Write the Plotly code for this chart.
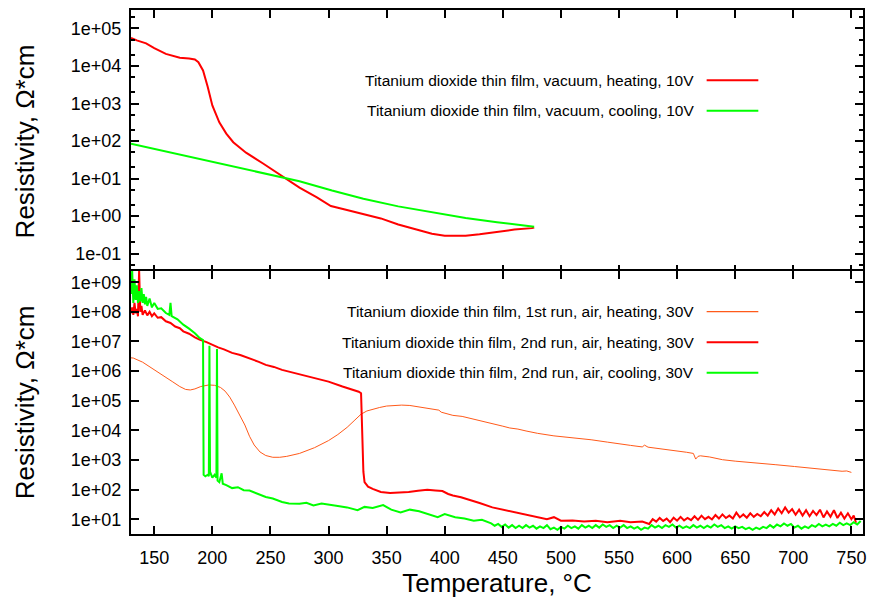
import plotly.graph_objects as go
from plotly.subplots import make_subplots

# ---------------- data ----------------
x_ticks = [150, 200, 250, 300, 350, 400, 450, 500, 550, 600, 650, 700, 750]

top_ticks = [1e-1, 1e0, 1e1, 1e2, 1e3, 1e4, 1e5]
top_tick_text = ["1e-01", "1e+00", "1e+01", "1e+02", "1e+03", "1e+04", "1e+05"]
bot_ticks = [1e1, 1e2, 1e3, 1e4, 1e5, 1e6, 1e7, 1e8, 1e9]
bot_tick_text = ["1e+01", "1e+02", "1e+03", "1e+04", "1e+05", "1e+06", "1e+07", "1e+08", "1e+09"]

names_top = ["Titanium dioxide thin film, vacuum, heating, 10V",
             "Titanium dioxide thin film, vacuum, cooling, 10V"]
names_bot = ["Titanium dioxide thin film, 1st run, air, heating, 30V",
             "Titanium dioxide thin film, 2nd run, air, heating, 30V",
             "Titanium dioxide thin film, 2nd run, air, cooling, 30V"]

# vacuum, heating, 10V
vh_T = [130, 135, 143, 150, 160, 172, 180, 185, 188, 192, 196, 200, 206, 212, 218, 229,
        243, 255, 266, 275, 290, 302, 315, 332, 345, 360, 375, 389, 400, 410, 418, 430,
        446, 460, 475, 477]
vh_R = [5.6e4, 4.8e4, 4.0e4, 3.0e4, 2.1e4, 1.66e4, 1.58e4, 1.48e4, 1.26e4, 7.6e3, 2.8e3,
        890, 316, 158, 93, 49, 26, 14.5, 8.5, 5.75, 3.16, 1.86, 1.48, 1.10, 0.87, 0.60,
        0.44, 0.34, 0.30, 0.295, 0.30, 0.33, 0.39, 0.44, 0.48, 0.50]

# vacuum, cooling, 10V
vc_T = [130, 150, 175, 200, 225, 250, 275, 303, 330, 360, 390, 418, 445, 475, 477]
vc_R = [85, 62, 42, 28, 19, 12.6, 8.5, 4.8, 2.9, 1.82, 1.23, 0.89, 0.69, 0.54, 0.525]

# 1st run, air, heating, 30V
a1_T = [130, 132, 140, 146, 153, 160, 166, 172, 177, 181, 185, 190, 197, 202, 207, 211,
        215, 219, 223, 228, 232, 236, 241, 246, 252, 258, 264, 270, 275, 288, 300, 308,
        316, 322, 328, 333, 338, 344, 350, 356, 363, 370, 376, 384, 391, 395, 397, 401,
        407, 415, 425, 432, 440, 450, 456, 463, 470, 480, 494, 502, 510, 518, 526, 540,
        551, 560, 570, 572, 575, 588, 600, 608, 614, 616, 618, 620, 628, 639, 650, 660,
        670, 685, 701, 715, 725, 733, 742, 746, 750]
a1_R = [2.8e6, 2.75e6, 2.0e6, 1.41e6, 9.5e5, 6.5e5, 4.3e5, 3.0e5, 2.4e5, 2.3e5, 2.5e5,
        3.0e5, 3.4e5, 3.3e5, 2.8e5, 2.1e5, 1.32e5, 7.1e4, 3.7e4, 1.51e4, 6.3e3, 3.2e3,
        1.86e3, 1.41e3, 1.23e3, 1.23e3, 1.32e3, 1.48e3, 1.66e3, 2.6e3, 4.5e3, 7.2e3,
        1.26e4, 2.1e4, 3.5e4, 4.5e4, 5.2e4, 5.9e4, 6.6e4, 6.9e4, 7.1e4, 6.9e4, 6.3e4,
        5.8e4, 5.1e4, 4.8e4, 4.1e4, 3.8e4, 3.2e4, 2.95e4, 2.4e4, 2.1e4, 1.74e4, 1.38e4,
        1.2e4, 1.1e4, 9.5e3, 7.9e3, 6.5e3, 6.0e3, 5.75e3, 5.1e3, 4.8e3, 4.0e3, 3.4e3,
        3.1e3, 2.75e3, 3.16e3, 2.7e3, 2.35e3, 2.05e3, 1.82e3, 1.66e3, 1.07e3, 1.32e3,
        1.38e3, 1.26e3, 1.02e3, 910, 850, 780, 690, 600, 525, 470, 440, 415, 425, 380]

# 2nd run, air, heating, 30V
a2h_T = [130, 131, 132, 133, 134, 135, 136, 137, 138, 139, 140, 142, 144, 146, 148, 150,
         153, 156, 160, 164, 168, 172, 175, 180, 185, 189, 195, 200, 205, 210, 217, 224,
         232, 240, 246, 253, 260, 267, 275, 288, 300, 312, 320, 326, 328, 329, 330, 331,
         334, 338, 345, 353, 361, 369, 377, 385, 392, 398, 403, 407, 414, 422, 430, 441,
         452, 463, 472, 480, 488, 494, 500, 510, 520, 530, 540, 551, 560, 570,
         576, 579, 582, 585, 588, 591, 594, 597, 600, 603, 606, 609, 612, 615, 618, 621,
         624, 627, 630, 633, 636, 639, 642, 645, 648, 651, 654, 657, 660, 663, 666, 669,
         672, 675, 678, 681, 684, 687, 690, 693, 696, 699, 702, 705, 708, 711, 714, 717,
         720, 723, 726, 729, 732, 735, 738, 741, 744, 747, 750, 752, 754]
a2h_R = [8.9e7, 1.41e8, 7.9e7, 2.0e8, 8.9e7, 1.26e8, 7.1e7, 2.5e9, 1.0e8, 1.58e8, 7.9e7,
         1.12e8, 7.6e7, 1.0e8, 7.1e7, 8.9e7, 6.3e7, 6.6e7, 4.8e7, 4.2e7, 3.2e7, 2.8e7,
         2.2e7, 1.82e7, 1.38e7, 1.15e7, 9.5e6, 7.6e6, 6.3e6, 5.4e6, 4.1e6, 3.5e6, 2.75e6,
         2.05e6, 1.62e6, 1.38e6, 1.1e6, 9.3e5, 7.9e5, 5.75e5, 4.4e5, 3.0e5, 2.4e5, 2.0e5,
         1.78e5, 3.2e3, 400, 178, 126, 105, 83, 76, 78, 83, 91, 98, 93, 89, 71, 63, 55, 45,
         35, 25, 20, 16, 13.2, 11.2, 10, 11.7, 8.9, 9.1, 8.3, 8.9, 7.9, 8.9, 7.9, 8.3,
         6.9, 10, 8.3, 11, 8.7, 10.5, 7.9, 11.2, 8.9, 12, 9.1, 11, 9.3, 12.6, 9.5, 13.2,
         10, 12, 9.8, 13.8, 10.5, 14.5, 11, 13.2, 10.5, 16.6, 11.5, 14.5, 11.2, 15.8, 12, 15.1,
         12.6, 17.4, 13.2, 20, 14.5, 22.9, 15.8, 25, 16.6, 21.9, 14.1, 20.9, 13.2, 20, 12.6, 19.1,
         13.8, 20.9, 11.5, 18.2, 12, 20, 11, 16.6, 10.5, 15.8, 10, 13.2, 7.6]

# 2nd run, air, cooling, 30V
a2c_T = [130, 131, 132, 133, 134, 135, 136, 137, 138, 139, 140, 141, 142, 143, 144, 146,
         148, 150, 153, 156, 160, 163, 164, 165, 170, 175, 180, 185, 189, 192, 192.5, 194,
         196, 197, 197.5, 198, 200, 202, 203.5, 204, 204.5, 206, 208, 209, 212, 217, 222,
         227, 232, 238, 246, 252, 260, 266, 275, 281, 287, 294, 300, 308, 316, 325, 331,
         338, 347, 354, 362, 370, 378, 386, 394, 400, 409, 417, 425, 432,
         440, 443, 446, 449, 452, 455, 458, 461, 464, 467, 470, 473, 476, 479, 482, 485,
         488, 491, 494, 497, 500, 503, 506, 509, 512, 515, 518, 521, 524, 527, 530, 533,
         536, 539, 542, 545, 548, 551, 554, 557, 560, 563, 566, 569, 572, 575, 578, 581,
         584, 587, 590, 593, 596, 599, 602, 605, 608, 611, 614, 617, 620, 623, 626, 629,
         632, 635, 638, 641, 644, 647, 650, 653, 656, 659, 662, 665, 668, 671, 674, 677,
         680, 683, 686, 689, 692, 695, 698, 701, 704, 707, 710, 713, 716, 719, 722, 725,
         728, 731, 734, 737, 740, 743, 746, 749, 752, 755, 758]
a2c_R = [4.0e8, 2.5e9, 2.0e8, 1.26e9, 2.5e8, 7.9e8, 2.0e8, 5.0e8, 2.2e8, 6.3e8, 2.0e8,
         4.0e8, 1.78e8, 3.2e8, 1.58e8, 2.8e8, 1.41e8, 2.0e8, 1.26e8, 1.32e8, 9.1e7, 7.9e7,
         2.0e8, 7.1e7, 5.6e7, 3.7e7, 2.7e7, 1.9e7, 1.32e7, 1.12e7, 316, 282, 316, 282,
         7.1e6, 400, 251, 316, 251, 5.6e6, 200, 178, 355, 158, 141, 112, 120, 95, 93, 76,
         56, 50, 38, 34, 33, 36, 29, 34, 32, 28, 25, 20, 26, 24, 30, 21, 17, 21, 18.6,
         14.5, 11.7, 14.8, 11.7, 10.5, 8.9, 9.5,
         7.2, 6.0, 6.9, 5.5, 6.6, 5.2, 6.3, 5.0, 6.0, 5.0, 6.3, 5.2, 6.0, 4.8, 5.75, 5.0,
         6.3, 4.6, 5.2, 4.4, 5.5, 4.8, 6.0, 5.0, 5.75, 4.8, 6.3, 5.2, 6.0, 5.0, 6.3, 5.2,
         6.6, 5.5, 6.3, 5.0, 6.0, 5.2, 6.3, 5.0, 5.75, 4.8, 5.5, 4.4, 5.2, 4.8, 6.3, 5.2,
         6.0, 5.0, 6.3, 5.5, 6.6, 5.2, 6.0, 5.0, 5.75, 5.0, 6.3, 5.2, 6.0, 5.0, 6.0, 5.2,
         6.6, 5.5, 6.3, 5.0, 5.75, 4.8, 5.75, 5.0, 5.5, 4.6, 5.2, 4.4, 5.2, 4.6, 5.5, 5.0,
         6.3, 5.2, 6.6, 5.75, 7.2, 6.0, 6.9, 5.2, 6.0, 4.8, 5.75, 5.0, 6.3, 5.5, 6.9, 5.75,
         6.6, 5.75, 6.9, 6.0, 7.6, 6.3, 7.2, 6.3, 7.9, 6.6, 8.7]

RED = "#ff0000"
GREEN = "#00ff00"
ORANGE = "#ff5a1a"
FONT = "Liberation Sans, Arial, Helvetica, sans-serif"

# ---------------- figure ----------------
fig = make_subplots(rows=2, cols=1, shared_xaxes=True, vertical_spacing=0)

fig.add_trace(go.Scatter(x=vh_T, y=vh_R, mode="lines", name=names_top[0],
                         line=dict(color=RED, width=2)), row=1, col=1)
fig.add_trace(go.Scatter(x=vc_T, y=vc_R, mode="lines", name=names_top[1],
                         line=dict(color=GREEN, width=2)), row=1, col=1)
fig.add_trace(go.Scatter(x=a1_T, y=a1_R, mode="lines", name=names_bot[0],
                         line=dict(color=ORANGE, width=1)), row=2, col=1)
fig.add_trace(go.Scatter(x=a2h_T, y=a2h_R, mode="lines", name=names_bot[1],
                         line=dict(color=RED, width=2)), row=2, col=1)
fig.add_trace(go.Scatter(x=a2c_T, y=a2c_R, mode="lines", name=names_bot[2],
                         line=dict(color=GREEN, width=2)), row=2, col=1)

axis_common = dict(showline=True, linewidth=2, linecolor="black", mirror="allticks",
                   ticks="inside", ticklen=8, tickwidth=2, tickcolor="black",
                   showgrid=False, zeroline=False,
                   tickfont=dict(family=FONT, size=18, color="black"))

fig.update_xaxes(range=[130, 760], tickvals=x_ticks, **axis_common)
fig.update_xaxes(row=2, col=1, ticklabelstandoff=6,
                 title=dict(text="Temperature, °C", standoff=2,
                            font=dict(family=FONT, size=26, color="black")))

ytitle = dict(text="Resistivity, Ω*cm", standoff=29,
              font=dict(family=FONT, size=26, color="black"))
fig.update_yaxes(row=1, col=1, type="log", range=[-1.515, 5.49], domain=[0.498, 1.0],
                 tickvals=top_ticks, ticktext=top_tick_text, title=ytitle,
                 ticklabelstandoff=4,
                 minor=dict(ticks="inside", ticklen=4, tickwidth=1.5, tickcolor="black",
                            dtick="D2", showgrid=False),
                 **axis_common)
fig.update_yaxes(row=2, col=1, type="log", range=[0.5, 9.38], domain=[0.0, 0.502],
                 tickvals=bot_ticks, ticktext=bot_tick_text, title=ytitle,
                 ticklabelstandoff=4, **axis_common)

# key (text on the left, line sample on the right, like the original)
PT, PB = 10, 534
def ypaper(py):
    return (PB - py) / (PB - PT)

key_rows = [(names_top[0], RED, 2, 80.3), (names_top[1], GREEN, 2, 110.7),
            (names_bot[0], ORANGE, 1.2, 311.7), (names_bot[1], RED, 2, 342.3),
            (names_bot[2], GREEN, 2, 372.7)]
for txt, col, w, py in key_rows:
    yp = ypaper(py)
    fig.add_annotation(x=0.7714, y=yp, xref="paper", yref="paper", text=txt,
                       showarrow=False, xanchor="right", yanchor="middle",
                       font=dict(family=FONT, size=15.5, color="black"))
    fig.add_shape(type="line", xref="paper", yref="paper", x0=0.7864, x1=0.857,
                  y0=yp, y1=yp, line=dict(color=col, width=w))

fig.update_layout(width=873, height=599, showlegend=False,
                  margin=dict(l=131, r=7, t=10, b=65),
                  paper_bgcolor="white", plot_bgcolor="white",
                  font=dict(family=FONT, color="black"))

fig.write_html("out.html")
